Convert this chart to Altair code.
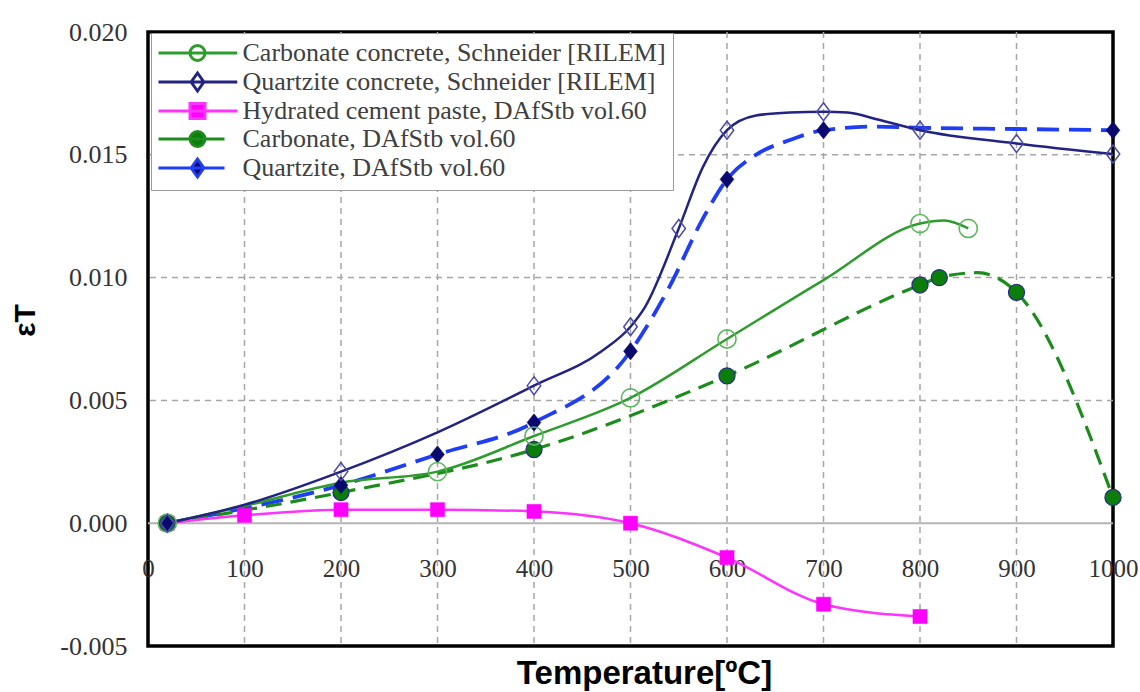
import altair as alt
import pandas as pd

# ---------------- data ----------------
series_names = [
    "Carbonate concrete, Schneider [RILEM]",
    "Quartzite concrete, Schneider [RILEM]",
    "Hydrated cement paste, DAfStb vol.60",
    "Carbonate, DAfStb vol.60",
    "Quartzite, DAfStb vol.60",
]

carb_s_T = [20, 100, 200, 300, 400, 500, 600, 700, 800, 825, 850]
carb_s_eps = [0.0, 0.0007, 0.00165, 0.0021, 0.00355, 0.0051, 0.0075, 0.0099, 0.0122, 0.01232, 0.0120]
carb_s_mark = [1, 0, 0, 1, 1, 1, 1, 0, 1, 0, 1]

quartz_s_T = [20, 100, 200, 300, 400, 470, 500, 515, 550, 575, 600, 630, 665, 700, 725, 755, 800, 900, 1000]
quartz_s_eps = [0.0, 0.00075, 0.0021, 0.0037, 0.0056, 0.0070, 0.0080, 0.0088, 0.0120, 0.0145, 0.0160,
                0.0166, 0.01672, 0.01675, 0.01672, 0.01645, 0.0160, 0.01546, 0.01503]
quartz_s_mark = [1, 0, 1, 0, 1, 0, 1, 0, 1, 0, 1, 0, 0, 1, 0, 0, 1, 1, 1]

paste_T = [20, 100, 200, 300, 400, 500, 600, 700, 800]
paste_eps = [0.0, 0.00032, 0.00055, 0.00055, 0.00048, 0.0, -0.0014, -0.0033, -0.0038]
paste_mark = [1, 1, 1, 1, 1, 1, 1, 1, 1]

carb_d_T = [20, 200, 400, 600, 800, 820, 860, 900, 1000]
carb_d_eps = [0.0, 0.00125, 0.0030, 0.0060, 0.0097, 0.0100, 0.0102, 0.0094, 0.00105]
carb_d_mark = [1, 1, 1, 1, 1, 1, 0, 1, 1]

quartz_d_T = [20, 200, 300, 400, 500, 540, 575, 600, 630, 665, 700, 755, 800, 900, 1000]
quartz_d_eps = [0.0, 0.00155, 0.0028, 0.0041, 0.0070, 0.0096, 0.0124, 0.0140, 0.0150, 0.0156, 0.0160,
                0.01615, 0.0161, 0.01605, 0.0160]
quartz_d_mark = [1, 1, 1, 1, 1, 0, 0, 1, 0, 0, 1, 0, 0, 0, 1]

x_ticks = [0, 100, 200, 300, 400, 500, 600, 700, 800, 900, 1000]
y_ticks = [-0.005, 0.0, 0.005, 0.010, 0.015, 0.020]
x_grid = [100, 200, 300, 400, 500, 600, 700, 800, 900]
y_grid = [0.005, 0.010, 0.015]

# ---------------- styles ----------------
line_colors = ["#2e9b2e", "#232383", "#ff33ff", "#1c8c1c", "#1f3df5"]
line_widths = [2.5, 2.5, 2.5, 3.2, 3.8]
line_dashes = [None, None, None, [16, 9], [22, 10]]

DIAMOND = "M0,-1L0.75,0L0,1L-0.75,0Z"
DIAMOND_F = "M0,-1L0.8,0L0,1L-0.8,0Z"
marker_styles = [
    dict(shape="circle", filled=False, stroke="#5cb85c", strokeWidth=1.6, size=330),
    dict(shape=DIAMOND, filled=False, stroke="#4b4ba8", strokeWidth=1.5, size=324),
    dict(shape="square", filled=True, fill="#ff00ff", stroke="#ff00ff", strokeWidth=0.5, size=200),
    dict(shape="circle", filled=True, fill="#0b7d0b", stroke="#2a2a8a", strokeWidth=1.2, size=260),
    dict(shape=DIAMOND_F, filled=True, fill="#0a0a6e", stroke="#0a0a6e", strokeWidth=0.5, size=300),
]

# legend symbols: a line with the marker in the middle (custom SVG paths)
LONG = "M-5.2,0L5.3,0"
SHORT = "M-5.2,0L3.6,0"
CIRC = "M-1,0A1,1,0,1,0,1,0A1,1,0,1,0,-1,0Z"
DIAM = "M0,-1.2L0.85,0L0,1.2L-0.85,0Z"
SQR = "M-1,-1L1,-1L1,1L-1,1Z"
legend_paths = [LONG + CIRC, LONG + DIAM, LONG + SQR, SHORT + CIRC, SHORT + DIAM]
legend_fills = ["white", "white", "#ff00ff", "#0b7d0b", "#0a0a6e"]

# ---------------- tables ----------------
frames = []
for name, T, e, m in [
    (series_names[0], carb_s_T, carb_s_eps, carb_s_mark),
    (series_names[1], quartz_s_T, quartz_s_eps, quartz_s_mark),
    (series_names[2], paste_T, paste_eps, paste_mark),
    (series_names[3], carb_d_T, carb_d_eps, carb_d_mark),
    (series_names[4], quartz_d_T, quartz_d_eps, quartz_d_mark),
]:
    frames.append(pd.DataFrame({"series": name, "T": T, "eps": e, "marker": m}))
df = pd.concat(frames, ignore_index=True)

legend_df = pd.DataFrame({"series": series_names, "T": [-500] * 5, "eps": [0.0] * 5})
zero_df = pd.DataFrame({"eps": [0.0]})
xgrid_df = pd.DataFrame({"T": x_grid})
ygrid_df = pd.DataFrame({"eps": y_grid})

# ---------------- scales / axes ----------------
x_scale = alt.Scale(domain=[0, 1000], nice=False, zero=False)
y_scale = alt.Scale(domain=[-0.005, 0.020], nice=False, zero=False)

x_axis = alt.Axis(
    values=x_ticks, title="Temperature[ºC]", format="d",
    labelFont="Liberation Serif", labelFontSize=25, labelColor="#333333",
    labelBaseline="middle", labelPadding=2, offset=-80,
    ticks=False, tickSize=0, domain=False, grid=False,
    labelFlush=False, labelOverlap=False,
    titleFont="Liberation Sans", titleFontSize=33, titleFontWeight="bold", titleColor="black",
    titleX=496, titleY=107, titleBaseline="middle", titleAlign="center",
)
y_axis = alt.Axis(
    values=y_ticks, title="εT",
    labelExpr="replace(format(datum.value, '.3f'), '\u2212', '-')",
    labelFont="Liberation Serif", labelFontSize=26, labelColor="#333333",
    labelPadding=21, ticks=False, tickSize=0, domain=False, grid=False,
    labelFlush=False, labelOverlap=False,
    titleFont="Liberation Sans", titleFontSize=30, titleFontWeight="bold", titleColor="black",
    titleX=-123, titleY=288, titleAngle=270, titleBaseline="middle", titleAlign="center",
)


def X():
    return alt.X("T:Q", scale=x_scale, axis=x_axis)


def Y():
    return alt.Y("eps:Q", scale=y_scale, axis=y_axis)


layers = []

# dashed grid
grid_style = dict(color="#a6a6a6", strokeWidth=1.5, strokeDash=[6, 5])
layers.append(alt.Chart(xgrid_df).mark_rule(**grid_style).encode(x=X()))
layers.append(alt.Chart(ygrid_df).mark_rule(**grid_style).encode(y=Y()))

# zero line
layers.append(alt.Chart(zero_df).mark_rule(color="#b4b4b4", strokeWidth=2).encode(y=Y()))

# lines (dashed ones first)
for i in [4, 3, 2, 0, 1]:
    kw = dict(interpolate="monotone", color=line_colors[i], strokeWidth=line_widths[i])
    if line_dashes[i]:
        kw["strokeDash"] = line_dashes[i]
    layers.append(
        alt.Chart(df).transform_filter(alt.datum.series == series_names[i])
        .mark_line(**kw).encode(x=X(), y=Y())
    )

# markers
for i in [2, 3, 4, 0, 1]:
    layers.append(
        alt.Chart(df).transform_filter(
            (alt.datum.series == series_names[i]) & (alt.datum.marker == 1)
        ).mark_point(opacity=1, **marker_styles[i]).encode(x=X(), y=Y())
    )

# legend (carried by clipped, invisible points)
legend = alt.Legend(
    title=None, orient="none", legendX=3, legendY=1,
    fillColor="white", strokeColor="#9a9a9a", padding=7,
    symbolSize=225, symbolStrokeWidth=3, symbolOffset=26.5, symbolOpacity=1,
    labelOffset=32, labelFont="Liberation Serif", labelFontSize=26,
    labelColor="#404040", labelLimit=0, rowPadding=0,
)
layers.append(
    alt.Chart(legend_df).mark_point(filled=False, opacity=1, clip=True, strokeWidth=3, size=225)
    .encode(
        x=X(), y=Y(),
        color=alt.Color("series:N", scale=alt.Scale(domain=series_names, range=line_colors), legend=legend),
        fill=alt.Fill("series:N", scale=alt.Scale(domain=series_names, range=legend_fills), legend=legend),
        shape=alt.Shape("series:N", scale=alt.Scale(domain=series_names, range=legend_paths), legend=legend),
    )
)

chart = (
    alt.layer(*layers)
    .properties(
        width=965, height=614,
        autosize=alt.AutoSizeParams(type="none"),
        padding={"left": 148, "top": 32, "right": 27, "bottom": 46},
        background="white",
    )
    .configure_view(stroke="black", strokeWidth=3.5)
)

chart.save("out.html", embed_options={"renderer": "svg", "actions": False})
